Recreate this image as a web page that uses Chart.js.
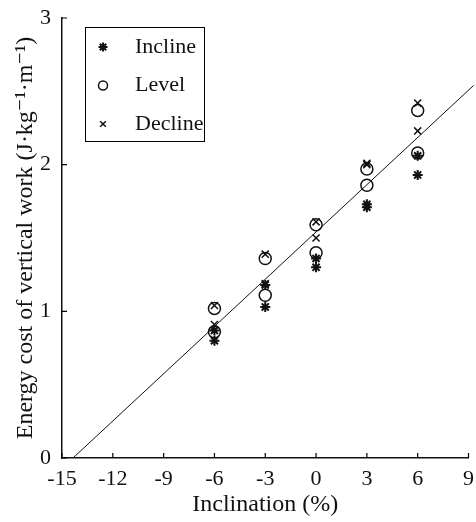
<!DOCTYPE html>
<html>
<head>
<meta charset="utf-8">
<script src="https://cdn.jsdelivr.net/npm/chart.js@4.4.1/dist/chart.umd.min.js"></script>
<style>
  html, body { margin: 0; padding: 0; background: #fff; }
  #wrap { width: 476px; height: 522px; position: relative; }
</style>
</head>
<body>
<div id="wrap"><canvas id="myChart"></canvas></div>
<script>
// data
var inclination = [-6, -6, -3, -3, 0, 0, 3, 3, 6, 6];
var incline = [0.87, 0.80, 1.18, 1.03, 1.36, 1.30, 1.73, 1.71, 2.06, 1.93];
var level   = [1.02, 0.86, 1.36, 1.11, 1.59, 1.40, 1.97, 1.86, 2.37, 2.08];
var decline = [1.04, 0.91, 1.39, 1.19, 1.61, 1.50, 2.01, 2.00, 2.42, 2.23];
var fitX = [-14.35, 9.3];
var fitY = [0, 2.54];

var serif = "'Liberation Serif', 'DejaVu Serif', serif";

function pairs(xs, ys) {
    return xs.map(function (x, i) { return { x: x, y: ys[i] }; });
}

// ticks drawn inside the plot, like the original
var innerTicks = {
    id: 'innerTicks',
    afterDraw: function (chart) {
        var ctx = chart.ctx;
        var xs = chart.scales.x, ys = chart.scales.y;
        var area = chart.chartArea;
        ctx.save();
        ctx.strokeStyle = '#000';
        ctx.lineWidth = 1.2;
        ctx.beginPath();
        xs.ticks.forEach(function (t) {
            var px = xs.getPixelForValue(t.value);
            ctx.moveTo(px, area.bottom);
            ctx.lineTo(px, area.bottom - 5);
        });
        ys.ticks.forEach(function (t) {
            var py = ys.getPixelForValue(t.value);
            ctx.moveTo(area.left, py);
            ctx.lineTo(area.left + 5, py);
        });
        ctx.stroke();
        ctx.restore();
    }
};

// boxed legend in the top-left corner
var boxLegend = {
    id: 'boxLegend',
    afterDraw: function (chart) {
        var ctx = chart.ctx;
        var items = [
            { text: 'Incline', style: 'star', r: 4.5, w: 2 },
            { text: 'Level', style: 'circle', r: 4.5, w: 1.5 },
            { text: 'Decline', style: 'crossRot', r: 4, w: 1.5 }
        ];
        ctx.save();
        ctx.strokeStyle = '#000';
        ctx.lineWidth = 1;
        ctx.strokeRect(85.5, 27.5, 119, 114);
        ctx.font = '22px ' + serif;
        ctx.textBaseline = 'middle';
        items.forEach(function (it, i) {
            var y = 47 + i * 38.5;
            ctx.lineWidth = it.w;
            ctx.strokeStyle = '#111';
            ctx.fillStyle = 'rgba(0,0,0,0)';
            Chart.helpers.drawPoint(ctx, { pointStyle: it.style, radius: it.r, rotation: 0, borderWidth: it.w }, 103, y);
            ctx.fillStyle = '#111';
            ctx.fillText(it.text, 135, y);
        });
        ctx.restore();
    }
};

var myChart = document.getElementById("myChart");
new Chart(myChart, {
    type: 'scatter',
    data: {
        datasets: [{
            label: 'Incline',
            data: pairs(inclination, incline),
            pointStyle: 'star',
            pointRadius: 5,
            borderWidth: 2,
            borderColor: '#111',
            backgroundColor: '#111'
        }, {
            label: 'Level',
            data: pairs(inclination, level),
            pointStyle: 'circle',
            pointRadius: 6,
            borderWidth: 1.5,
            borderColor: '#111',
            backgroundColor: 'rgba(0,0,0,0)'
        }, {
            label: 'Decline',
            data: pairs(inclination, decline),
            pointStyle: 'crossRot',
            pointRadius: 5,
            borderWidth: 1.5,
            borderColor: '#111',
            backgroundColor: '#111'
        }, {
            label: 'Fit',
            type: 'line',
            data: pairs(fitX, fitY),
            showLine: true,
            pointRadius: 0,
            borderWidth: 1,
            borderColor: '#111',
            clip: false
        }]
    },
    options: {
        responsive: true,
        maintainAspectRatio: false,
        animation: false,
        layout: { padding: { top: 18, right: 3, left: 0, bottom: 0 } },
        plugins: {
            legend: { display: false },
            tooltip: { enabled: false }
        },
        scales: {
            x: {
                type: 'linear',
                min: -15,
                max: 9,
                afterFit: function (s) { s.height = 64; s.paddingRight = 0; s.paddingLeft = 0; },
                grid: { display: false, drawTicks: false },
                border: { display: true, color: '#111', width: 1.5 },
                ticks: {
                    stepSize: 3,
                    padding: 8,
                    color: '#111',
                    font: { family: serif, size: 22 }
                },
                title: {
                    display: true,
                    text: 'Inclination (%)',
                    color: '#111',
                    font: { family: serif, size: 24 },
                    padding: { top: 0, bottom: 3 }
                }
            },
            y: {
                min: 0,
                max: 3,
                afterFit: function (s) { s.width = 62; s.paddingTop = 0; s.paddingBottom = 0; },
                grid: { display: false, drawTicks: false },
                border: { display: true, color: '#111', width: 1.5 },
                ticks: {
                    stepSize: 1,
                    padding: 11,
                    color: '#111',
                    font: { family: serif, size: 22 }
                },
                title: {
                    display: true,
                    text: 'Energy cost of vertical work (J·kg⁻¹·m⁻¹)',
                    color: '#111',
                    font: { family: serif, size: 24 },
                    padding: { top: 11, bottom: 0 }
                }
            }
        }
    },
    plugins: [innerTicks, boxLegend]
});
</script>
</body>
</html>
